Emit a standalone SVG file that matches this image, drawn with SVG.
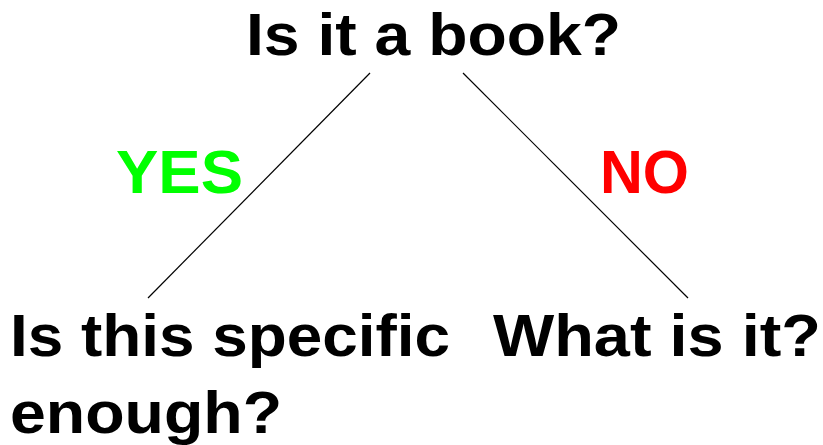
<svg xmlns="http://www.w3.org/2000/svg" width="823" height="445" viewBox="0 0 823 445">
<style>
text{font-family:"Liberation Sans",Arial,sans-serif;font-weight:bold;font-size:60px;fill:#000}
.yes{fill:#00ff00;font-size:62px}
.no{fill:#ff0000;font-size:62px}
.edge{stroke:#000;stroke-width:1.2;fill:none}
</style>
<rect width="823" height="445" fill="#fff"/>
<g id="connectors">
<line class="edge" x1="370" y1="73" x2="148" y2="298"/>
<line class="edge" x1="463" y1="73" x2="688" y2="298"/>
<text class="yes" x="116" y="193" textLength="127" lengthAdjust="spacingAndGlyphs">YES</text>
<text class="no" x="600" y="193" textLength="89" lengthAdjust="spacingAndGlyphs">NO</text>
</g>
<g id="root">
<text x="246" y="55" textLength="375" lengthAdjust="spacingAndGlyphs">Is it a book?</text>
</g>
<g id="yes-node">
<text x="10" y="356" textLength="440" lengthAdjust="spacingAndGlyphs">Is this specific</text>
<text x="10" y="433" textLength="272" lengthAdjust="spacingAndGlyphs">enough?</text>
</g>
<g id="no-node">
<text x="493" y="356" textLength="328" lengthAdjust="spacingAndGlyphs">What is it?</text>
</g>
</svg>
